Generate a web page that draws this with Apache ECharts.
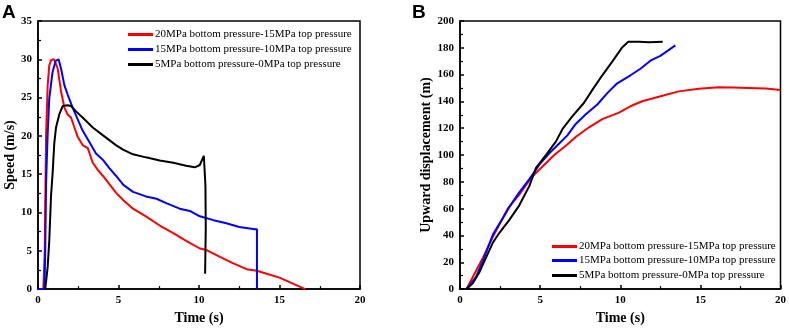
<!DOCTYPE html>
<html>
<head>
<meta charset="utf-8">
<script src="https://cdn.jsdelivr.net/npm/echarts@6/dist/echarts.min.js"></script>
<style>
html,body{margin:0;padding:0;background:#fff;}
#chart{width:789px;height:330px;}
</style>
</head>
<body>
<div id="chart"></div>
<script>
// ---- Data ----
const seriesNames = [
  '20MPa bottom pressure-15MPa top pressure',
  '15MPa bottom pressure-10MPa top pressure',
  '5MPa bottom pressure-0MPa top pressure'
];
const seriesColors = ['#ff0000', '#0000ff', '#000000'];

// Panel A: speed (m/s) vs time (s)
const speed20 = [[0,0],[0.33,0],[0.42,5],[0.5,20],[0.6,26.6],[0.7,29.2],[0.81,29.9],[1.0,30],[1.12,29.9],[1.22,28.8],[1.43,25.8],[1.64,23.7],[1.84,22.8],[2.05,22.4],[2.26,21.1],[2.46,19.9],[2.77,18.8],[3.09,18.4],[3.4,16.5],[3.7,15.6],[4.02,14.8],[4.43,13.7],[4.84,12.6],[5.3,11.6],[5.9,10.5],[6.7,9.5],[7.56,8.3],[8.4,7.3],[9.2,6.3],[10.05,5.3],[10.47,5.1],[11.3,4.2],[12.1,3.4],[12.95,2.6],[13.6,2.4],[14.2,2.0],[15.0,1.5],[15.9,0.64],[16.6,0]];
const speed15 = [[0,0],[0.4,0],[0.45,5],[0.5,13.9],[0.6,20.3],[0.7,24.9],[0.9,28.3],[1.1,29.8],[1.28,30],[1.43,28.8],[1.64,26.6],[1.84,25.4],[2.15,23.7],[2.46,22.2],[2.77,20.7],[3.19,19.2],[3.6,17.7],[4.02,16.9],[4.43,15.8],[4.84,14.8],[5.3,13.6],[5.9,12.7],[6.7,12.1],[7.36,11.8],[8.0,11.2],[8.8,10.5],[9.43,10.2],[10.05,9.5],[10.9,9.0],[11.7,8.6],[12.5,8.1],[13.47,7.8],[13.6,7.8],[13.6,0]];
const speed5 = [[0.45,0],[0.6,2.9],[0.7,6.3],[0.81,12.2],[0.91,15.2],[1.01,19],[1.12,21.1],[1.32,22.8],[1.53,23.9],[1.84,24],[2.05,23.9],[2.36,23.2],[2.77,22.4],[3.4,21.1],[4.02,20.1],[4.84,18.8],[5.28,18.2],[5.9,17.6],[6.7,17.2],[7.56,16.8],[8.4,16.5],[9.2,16.1],[9.74,15.9],[10.05,16.2],[10.3,17.4],[10.36,17.5],[10.4,13.5],[10.42,8],[10.38,2.0]];

// Panel B: upward displacement (m) vs time (s)
const disp20 = [[0.4,0],[0.8,9],[1.43,23.5],[2.05,39],[2.98,60],[3.7,70.5],[4.43,83],[5.05,90.4],[5.88,100],[6.6,107],[7.22,113.5],[8.05,120.7],[8.88,126.8],[9.92,131.6],[10.74,137],[11.37,140.1],[12.4,143.5],[13.65,147.5],[14.9,149.5],[16.16,150.5],[17.0,150.3],[18.0,150],[19.07,149.6],[20,148.6]];
const disp15 = [[0.4,0],[1.0,9.2],[1.43,21.3],[2.05,40.7],[2.67,52.8],[3.08,61.3],[3.7,72.2],[4.33,82],[4.95,92.8],[5.57,101.3],[6.19,108.6],[6.7,114.7],[7.22,123.2],[7.85,130.4],[8.57,137.7],[9.19,146.2],[9.81,153.5],[10.64,159.5],[11.26,164.4],[11.88,170.4],[12.5,174],[13.44,181.8]];
const disp5 = [[0.4,0],[0.8,4.4],[1.22,12.8],[1.64,23.8],[2.05,34.7],[2.46,42],[3.08,51.6],[3.7,62.5],[4.33,77],[4.74,90.4],[5.36,100],[5.98,110],[6.4,119.5],[7.02,129],[7.74,139],[8.26,148.6],[8.88,159.5],[9.5,169.7],[10.1,180],[10.5,184.5],[11.16,184.5],[11.78,184.2],[12.65,184.5]];

const xTicks = {min: 0, max: 20, interval: 5};
const yTicksA = {min: 0, max: 35, interval: 5};
const yTicksB = {min: 0, max: 200, interval: 20};

// ---- Chart ----
const SERIF = '"Liberation Serif","Times New Roman",serif';
const chart = echarts.init(document.getElementById('chart'), null, {renderer: 'canvas'});

function xAxis(gridIndex) {
  return {
    type: 'value', gridIndex, min: xTicks.min, max: xTicks.max, interval: xTicks.interval,
    name: 'Time (s)', nameLocation: 'middle', nameGap: 20,
    nameTextStyle: {fontFamily: SERIF, fontWeight: 'bold', fontSize: 14, color: '#000'},
    axisLine: {show: true, lineStyle: {color: '#000', width: 1.5}},
    axisTick: {show: true, inside: true, length: 4, lineStyle: {color: '#000', width: 1.5}},
    minorTick: {show: true, splitNumber: 2, length: 3, lineStyle: {color: '#000', width: 1.2}},
    axisLabel: {fontFamily: SERIF, fontWeight: 'bold', fontSize: 11, color: '#000', margin: 6},
    splitLine: {show: false}
  };
}
function yAxis(gridIndex, t, name, gap) {
  return {
    type: 'value', gridIndex, min: t.min, max: t.max, interval: t.interval,
    name, nameLocation: 'middle', nameGap: gap,
    nameTextStyle: {fontFamily: SERIF, fontWeight: 'bold', fontSize: 14, color: '#000'},
    axisLine: {show: true, lineStyle: {color: '#000', width: 1.5}},
    axisTick: {show: true, inside: true, length: 4, lineStyle: {color: '#000', width: 1.5}},
    minorTick: {show: true, splitNumber: 2, length: 3, lineStyle: {color: '#000', width: 1.2}},
    axisLabel: {fontFamily: SERIF, fontWeight: 'bold', fontSize: 11, color: '#000', margin: 6},
    splitLine: {show: false}
  };
}
function line(name, data, color, xi, yi) {
  return {
    type: 'line', name, data, xAxisIndex: xi, yAxisIndex: yi,
    showSymbol: false, symbol: 'none', smooth: false,
    lineStyle: {color, width: 2}, itemStyle: {color}, z: 3
  };
}
function legend(name, left, top) {
  return {
    data: [name], left, top, orient: 'vertical', padding: 0,
    itemWidth: 25, itemHeight: 3, icon: 'rect',
    textStyle: {fontFamily: SERIF, fontSize: 11, color: '#000', padding: [0,0,0,-3]}
  };
}
const legA = [[128, 29], [128, 44], [128, 59]];
const legB = [[552, 241], [552, 255], [552, 270]];

chart.setOption({
  animation: false,
  backgroundColor: '#fff',
  grid: [
    {left: 38, top: 21, width: 322, height: 275, show: true, borderColor: '#000', borderWidth: 1.5},
    {left: 460, top: 21, width: 322, height: 275, show: true, borderColor: '#000', borderWidth: 1.5}
  ],
  xAxis: [xAxis(0), xAxis(1)],
  yAxis: [yAxis(0, yTicksA, 'Speed (m/s)', 15), yAxis(1, yTicksB, 'Upward displacement (m)', 22)],
  legend: [
    legend(seriesNames[0], legA[0][0], legA[0][1]),
    legend(seriesNames[1], legA[1][0], legA[1][1]),
    legend(seriesNames[2], legA[2][0], legA[2][1]),
    legend(seriesNames[0] + ' ', legB[0][0], legB[0][1]),
    legend(seriesNames[1] + ' ', legB[1][0], legB[1][1]),
    legend(seriesNames[2] + ' ', legB[2][0], legB[2][1])
  ],
  graphic: [
    {type: 'text', left: 2, top: 3, style: {text: 'A', font: 'bold 19px "Liberation Sans", Arial, sans-serif', fill: '#000'}},
    {type: 'text', left: 412, top: 3, style: {text: 'B', font: 'bold 19px "Liberation Sans", Arial, sans-serif', fill: '#000'}}
  ],
  series: [
    line(seriesNames[0], speed20, seriesColors[0], 0, 0),
    line(seriesNames[1], speed15, seriesColors[1], 0, 0),
    line(seriesNames[2], speed5, seriesColors[2], 0, 0),
    line(seriesNames[0] + ' ', disp20, seriesColors[0], 1, 1),
    line(seriesNames[1] + ' ', disp15, seriesColors[1], 1, 1),
    line(seriesNames[2] + ' ', disp5, seriesColors[2], 1, 1)
  ]
});
</script>
</body>
</html>
